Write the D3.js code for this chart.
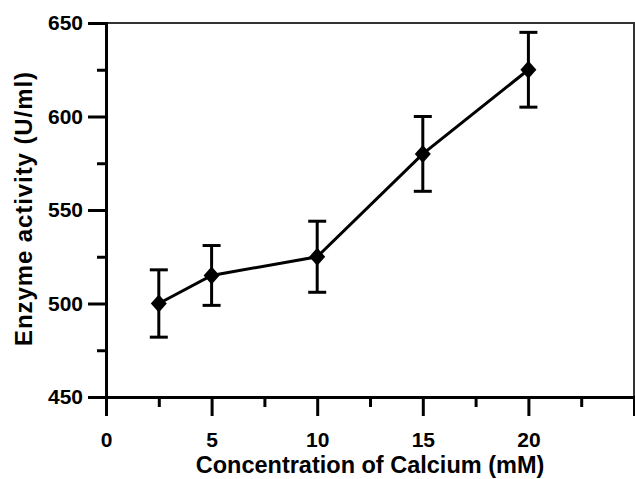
<!DOCTYPE html>
<html>
<head>
<meta charset="utf-8">
<script src="https://cdn.jsdelivr.net/npm/d3@7.9.0/dist/d3.min.js"></script>
<style>
  body { margin: 0; background: #fff; }
  text { font-family: "Liberation Sans", Arial, sans-serif; font-weight: bold; fill: #000; }
  .tick text { font-size: 21px; }
</style>
</head>
<body>
<svg id="chart" width="635" height="479"></svg>
<script>
// calcium concentration (mM) vs enzyme activity (U/ml)
const calcium = [2.5, 5, 10, 15, 20];
const activity = [500, 515, 525, 580, 625];
const errors = [18, 16, 19, 20, 20];
const xTicks = [0, 5, 10, 15, 20];
const yTicks = [450, 500, 550, 600, 650];

const svg = d3.select('#chart');
const plotL = 106, plotR = 634, plotT = 23, plotB = 397;

let x = d3.scaleLinear().domain([0, 25]).range([plotL, plotR]);
let y = d3.scaleLinear().domain([450, 650]).range([plotB, plotT]);

// frame (top + right)
svg.append('path')
   .attr('d', `M${plotL},${plotT}H${plotR}V${plotB}`)
   .attr('fill', 'none')
   .attr('stroke', '#333')
   .attr('stroke-width', 2);

// y axis
let yAxis = svg.append('g')
   .attr('transform', `translate(${plotL},0)`)
   .call(d3.axisLeft(y).tickValues(yTicks).tickSize(18).tickPadding(5).tickFormat(d3.format('d')));
yAxis.append('g')
     .attr('class', 'minor')
     .call(d3.axisLeft(y).tickValues([475, 525, 575, 625]).tickSize(9).tickFormat(''));

// x axis
let xAxis = svg.append('g')
   .attr('transform', `translate(0,${plotB})`)
   .call(d3.axisBottom(x).tickValues(xTicks).tickSize(19).tickPadding(16).tickFormat(d3.format('d')));
xAxis.append('g')
     .attr('class', 'minor')
     .call(d3.axisBottom(x).tickValues([2.5, 7.5, 12.5, 17.5, 22.5]).tickSize(10).tickFormat(''));

yAxis.attr('font-size', 21);
xAxis.attr('font-size', 21);
svg.selectAll('.domain').attr('stroke', '#000').attr('stroke-width', 3);
svg.selectAll('.tick line').attr('stroke', '#000').attr('stroke-width', 3);
svg.selectAll('.minor .domain').remove();

const data = calcium.map((c, i) => ({ x: c, y: activity[i], e: errors[i] }));

// connecting line
svg.append('path')
   .datum(data)
   .attr('d', d3.line().x(d => x(d.x)).y(d => y(d.y)))
   .attr('fill', 'none')
   .attr('stroke', '#000')
   .attr('stroke-width', 3);

// error bars
let eb = svg.append('g').attr('stroke', '#000').attr('stroke-width', 3);
data.forEach(d => {
  eb.append('line')
    .attr('x1', x(d.x)).attr('x2', x(d.x))
    .attr('y1', y(d.y - d.e)).attr('y2', y(d.y + d.e));
  [d.y - d.e, d.y + d.e].forEach(v => {
    eb.append('line')
      .attr('x1', x(d.x) - 9).attr('x2', x(d.x) + 9)
      .attr('y1', y(v)).attr('y2', y(v));
  });
});

// diamond markers
svg.selectAll('.pt')
   .data(data)
   .join('path')
   .attr('class', 'pt')
   .attr('transform', d => `translate(${x(d.x)},${y(d.y)})`)
   .attr('d', 'M0,-9L8,0L0,9L-8,0Z')
   .attr('fill', '#000');

// titles
svg.append('text')
   .attr('x', 370).attr('y', 473)
   .attr('text-anchor', 'middle')
   .style('font-size', '23.5px')
   .text('Concentration of Calcium (mM)');

svg.append('text')
   .attr('transform', 'translate(32,209) rotate(-90)')
   .attr('text-anchor', 'middle')
   .attr('textLength', 274)
   .attr('lengthAdjust', 'spacing')
   .style('font-size', '24px')
   .text('Enzyme activity (U/ml)');
</script>
</body>
</html>
